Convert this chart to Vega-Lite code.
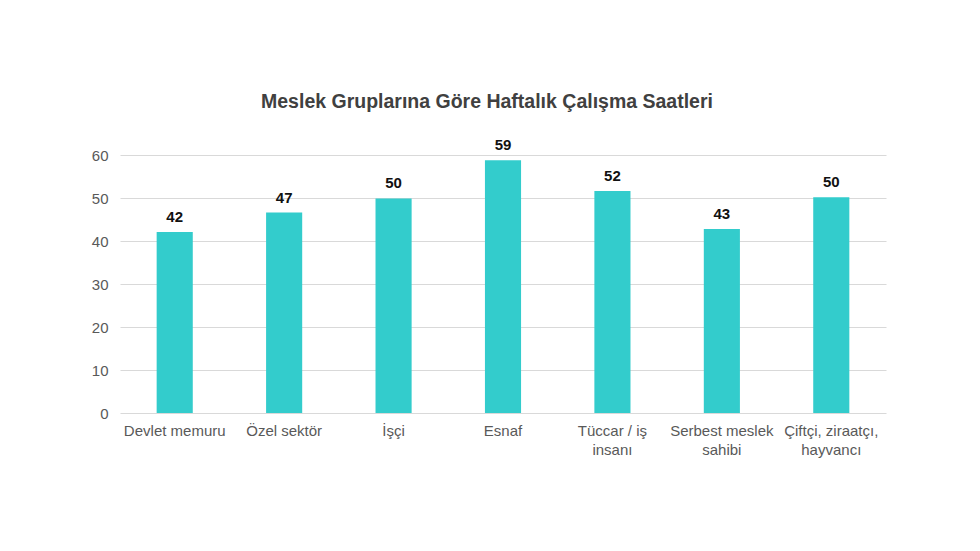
{
  "$schema": "https://vega.github.io/schema/vega-lite/v6.json",
  "autosize": "none",
  "width": 766,
  "height": 258,
  "padding": {"left": 120, "top": 155, "right": 94, "bottom": 138},
  "background": "white",
  "title": {
    "text": "Meslek Gruplarına Göre Haftalık Çalışma Saatleri",
    "font": "Liberation Sans",
    "fontSize": 19.5,
    "fontWeight": "bold",
    "color": "#404040",
    "anchor": "middle",
    "offset": 26,
    "dx": -16
  },
  "data": {
    "values": [
      {"meslek": "Devlet memuru", "saat": 42.1},
      {"meslek": "Özel sektör", "saat": 46.6},
      {"meslek": "İşçi", "saat": 49.9},
      {"meslek": "Esnaf", "saat": 58.8},
      {"meslek": "Tüccar / iş|insanı", "saat": 51.6},
      {"meslek": "Serbest meslek|sahibi", "saat": 42.8},
      {"meslek": "Çiftçi, ziraatçı,|hayvancı", "saat": 50.2}
    ]
  },
  "encoding": {
    "x": {
      "field": "meslek",
      "type": "nominal",
      "sort": null,
      "scale": {"paddingInner": 0.67, "paddingOuter": 0.335},
      "axis": {
        "title": null,
        "labelAngle": 0,
        "labelExpr": "split(datum.label, '|')",
        "labelFont": "Liberation Sans",
        "labelFontSize": 15,
        "labelColor": "#595959",
        "labelPadding": 10,
        "labelLineHeight": 19,
        "ticks": false,
        "domain": false
      }
    },
    "y": {
      "field": "saat",
      "type": "quantitative",
      "scale": {"domain": [0, 60]},
      "axis": {
        "title": null,
        "values": [0, 10, 20, 30, 40, 50, 60],
        "labelFont": "Liberation Sans",
        "labelFontSize": 15,
        "labelColor": "#595959",
        "labelPadding": 12,
        "ticks": false,
        "domain": false,
        "gridColor": "#d9d9d9",
        "gridWidth": 1.2
      }
    }
  },
  "layer": [
    {"mark": {"type": "bar", "color": "#33CCCC"}},
    {
      "mark": {
        "type": "text",
        "baseline": "bottom",
        "dy": -7,
        "font": "Liberation Sans",
        "fontSize": 15,
        "fontWeight": "bold",
        "color": "#111111"
      },
      "encoding": {
        "text": {"field": "saat", "type": "quantitative", "format": ".0f"}
      }
    }
  ],
  "config": {"view": {"stroke": null}}
}
